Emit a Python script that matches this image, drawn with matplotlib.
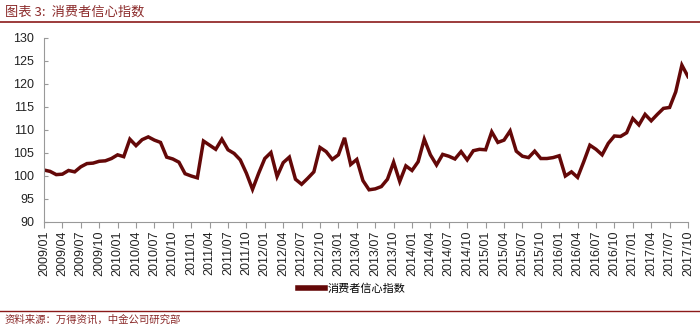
import matplotlib
matplotlib.use("Agg")
import matplotlib.pyplot as plt
from matplotlib.lines import Line2D

plt.rcParams['font.family'] = ['Liberation Sans', 'Noto Sans CJK SC', 'DejaVu Sans']

# months 2009/01 .. 2017/10
months = [f"{y}/{m:02d}" for y in range(2009, 2018) for m in range(1, 13)]
months = months[:months.index("2017/10") + 1]

confidence = [
    101.3, 101.0, 100.3, 100.4, 101.2, 100.9, 102.0, 102.7, 102.8, 103.2,
    103.3, 103.8, 104.6, 104.2, 108.0, 106.6, 107.9, 108.5, 107.8, 107.3,
    104.1, 103.7, 103.0, 100.5, 100.0, 99.6, 107.6, 106.7, 105.8, 108.0,
    105.7, 104.9, 103.5, 100.6, 97.1, 100.6, 103.8, 105.1, 99.9, 102.9,
    104.1, 99.3, 98.2, 99.5, 100.9, 106.2, 105.3, 103.6, 104.6, 108.3,
    102.5, 103.6, 99.0, 97.0, 97.2, 97.7, 99.3, 103.0, 98.8, 102.2,
    101.2, 103.1, 108.0, 104.6, 102.4, 104.7, 104.3, 103.7, 105.3, 103.5,
    105.5, 105.8, 105.7, 109.6, 107.3, 107.8, 109.8, 105.4, 104.3, 104.0,
    105.4, 103.8, 103.8, 104.0, 104.4, 100.0, 100.9, 99.7, 103.1, 106.7,
    105.8, 104.6, 107.1, 108.7, 108.6, 109.4, 112.5, 111.1, 113.4, 112.0,
    113.4, 114.7, 114.9, 118.3, 124.1, 121.6,
]
tick_labels = months[::3]
yticks = [90, 95, 100, 105, 110, 115, 120, 125, 130]
series_name = "消费者信心指数"
title = "图表 3:  消费者信心指数"
source = "资料来源：万得资讯，中金公司研究部"

W, H = 700, 326
fig = plt.figure(figsize=(W / 100, H / 100), dpi=100)
fig.patch.set_facecolor("white")

ax = fig.add_axes([44 / W, 1 - 222 / H, (688 - 44) / W, (222 - 38) / H])
line_color = "#640808"
x = list(range(len(confidence)))
ax.plot(x, confidence, color=line_color, lw=2.5, solid_joinstyle="miter")

ax.set_xlim(0, len(confidence) - 1)
ax.set_ylim(90, 130)
ax.set_yticks(yticks)
ax.set_yticklabels([str(v) for v in yticks], fontsize=9, color="#222222")
ax.set_xticks(x[::3])
ax.set_xticklabels(tick_labels, rotation=90, fontsize=9, color="#222222")
for s in ["top", "right"]:
    ax.spines[s].set_visible(False)
for s in ["left", "bottom"]:
    ax.spines[s].set_color("#999999")
    ax.spines[s].set_linewidth(0.8)
ax.tick_params(axis="y", direction="in", length=3, color="#999999", pad=7)
ax.tick_params(axis="x", direction="out", length=4, color="#999999", pad=2)

handle = Line2D([0], [0], color=line_color, lw=4)
fig.legend([handle], [series_name], loc="center", bbox_to_anchor=(352 / W, 1 - 289 / H),
           frameon=False, handlelength=2.4, handletextpad=0.3,
           prop={"family": ["Noto Sans CJK SC"], "size": 8})

# title and separators
fig.text(5 / W, 1 - 12 / H, title, fontsize=9.5, color="#8b2a2a", style="italic",
         va="center", ha="left", family=["Noto Sans CJK SC", "DejaVu Sans"])
fig.add_artist(Line2D([0, 1], [1 - 21.5 / H, 1 - 21.5 / H], color="#8b1a1a", lw=1.2))
fig.add_artist(Line2D([0, 1], [1 - 311 / H, 1 - 311 / H], color="#8b1a1a", lw=1.0))
fig.text(5 / W, 1 - 319.5 / H, source, fontsize=7.5, color="#8b2a2a", style="italic",
         va="center", ha="left", family=["Noto Sans CJK SC", "DejaVu Sans"])

fig.savefig("out.png", dpi=100, facecolor="white")
